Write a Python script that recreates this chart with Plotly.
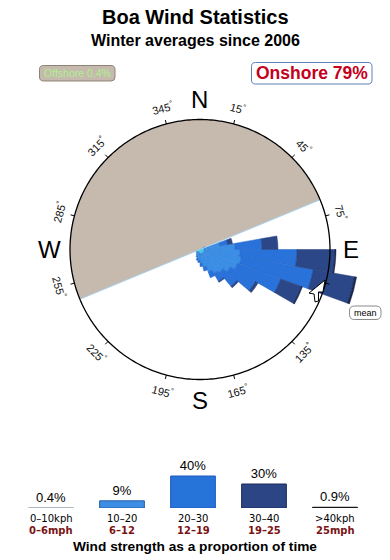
import numpy as np
import plotly.graph_objects as go

# ---------------- data ----------------
title = "Boa Wind Statistics"
subtitle = "Winter averages since 2006"
offshore_label = "Offshore 0.4%"
onshore_label = "Onshore 79%"

# offshore sector (compass bearings, clockwise from N)
offshore_from, offshore_to = 247.5, 67.5

# wind rose: % of time per 10-degree direction bin and speed class
directions = [65, 75, 85, 95, 105, 115, 125, 135, 145, 155, 165, 175, 185, 195, 205, 215, 225, 235, 245]
rose_0_10 = [0.01, 0.02, 0.02, 0.02, 0.02, 0.02, 0.02, 0.02, 0.02, 0.02, 0.02, 0.02, 0.02, 0.01, 0.01, 0.01, 0.01, 0.01, 0.01]
rose_10_20 = [0.01, 0.41, 1.28, 1.68, 1.86, 1.68, 1.28, 0.94, 0.81, 0.59, 0.32, 0.19, 0.11, 0.08, 0.04, 0.03, 0.02, 0.01, 0.01]
rose_20_30 = [0.01, 0.41, 2.79, 8.32, 12.21, 6.17, 3.06, 1.50, 0.62, 0.35, 0.17, 0.10, 0.05, 0.04, 0.02, 0, 0, 0, 0]
rose_30_40 = [0, 0.32, 2.39, 9.39, 12.17, 4.55, 0.42, 0.21, 0.08, 0, 0, 0, 0, 0, 0, 0, 0, 0, 0]
rose_40p = [0, 0, 0, 0.29, 0.67, 0.23, 0, 0, 0, 0, 0, 0, 0, 0, 0, 0, 0, 0, 0]
rose_classes = [rose_0_10, rose_10_20, rose_20_30, rose_30_40, rose_40p]
rose_colors = ["#52d2f2", "#3b8ee6", "#2872da", "#2b4787", "#1c2752"]
rose_edge = ["#48c4e6", "#3584d8", "#2467c8", "#263f78", "#151e40"]
circle_pct = 18.0          # value of the outer circle (area scaled rose)

tick_bearings = [15, 45, 75, 135, 165, 195, 225, 255, 285, 315, 345]
compass = [("N", 0), ("E", 90), ("S", 180), ("W", 270)]

# mean marker (white arrow) in bearing / radius (px of a 130 px circle)
mean_theta = [103.7, 109.1, 109.7, 113.5, 114.5, 111.3, 111.8, 103.7]
mean_rpx = [128.7, 130.1, 125.9, 129.2, 126.4, 122.4, 117.4, 128.7]

# speed distribution
speed_kph = ["0–10kph", "10–20", "20–30", "30–40", ">40kph"]
speed_mph = ["0–6mph", "6–12", "12–19", "19–25", "25mph"]
speed_share = [0.4, 9, 40, 30, 0.9]
speed_share_txt = ["0.4%", "9%", "40%", "30%", "0.9%"]
speed_colors = ["#a9b5bb", "#3b8ee4", "#2673da", "#2b4585", "#111111"]
speed_edges = ["#a9b5bb", "#285ca6", "#1d5cbc", "#1b2b5a", "#111111"]

# ---------------- geometry ----------------
W, H = 390, 560
CX, CY, RC, RDOM = 200, 249.5, 130, 170
unit = np.sqrt(circle_pct) / RC      # radial axis units per pixel
RCIRC = np.sqrt(circle_pct)
FONT = "Liberation Sans, Arial, Helvetica, sans-serif"
WIDE = "DejaVu Sans, Verdana, sans-serif"


def paper_pt(bearing, rpx):
    b = np.radians(bearing)
    return (CX + rpx * np.sin(b)) / W, 1 - (CY - rpx * np.cos(b)) / H


def rrect(x0, y0, x1, y1, rad):
    def P(x, y):
        return f"{x / W:.5f},{1 - y / H:.5f}"
    return (f"M{P(x0 + rad, y0)} L{P(x1 - rad, y0)} Q{P(x1, y0)} {P(x1, y0 + rad)} "
            f"L{P(x1, y1 - rad)} Q{P(x1, y1)} {P(x1 - rad, y1)} L{P(x0 + rad, y1)} "
            f"Q{P(x0, y1)} {P(x0, y1 - rad)} L{P(x0, y0 + rad)} Q{P(x0, y0)} {P(x0 + rad, y0)} Z")


fig = go.Figure()

# offshore half (tan)
span = (offshore_to - offshore_from) % 360
fig.add_trace(go.Barpolar(r=[RCIRC], theta=[offshore_from + span / 2], width=[span],
                          marker=dict(color="#c5baad", line=dict(width=0)),
                          hoverinfo="skip", showlegend=False))
fig.add_trace(go.Scatterpolar(r=[RCIRC, 0, RCIRC], theta=[offshore_to, offshore_to, offshore_from],
                              mode="lines", line=dict(color="#a8d2ee", width=1),
                              hoverinfo="skip", showlegend=False))

# tick marks
tr, tt = [], []
for b in tick_bearings + [105]:
    tr += [RCIRC, RCIRC + 4 * unit, None]
    tt += [b, b, None]
fig.add_trace(go.Scatterpolar(r=tr, theta=tt, mode="lines", line=dict(color="black", width=1),
                              hoverinfo="skip", showlegend=False))

# rose petals (area scaled: radius ~ sqrt of cumulative %)
cum = np.zeros(len(directions))
for vals, col, ecol in zip(rose_classes, rose_colors, rose_edge):
    lo = np.sqrt(cum)
    cum = cum + np.array(vals)
    hi = np.sqrt(cum)
    fig.add_trace(go.Barpolar(r=hi - lo, base=lo, theta=directions, width=[10] * len(directions),
                              marker=dict(color=col, line=dict(color=ecol, width=0.5)),
                              hoverinfo="skip", showlegend=False))

# outer circle
th = np.linspace(0, 360, 361)
fig.add_trace(go.Scatterpolar(r=[RCIRC] * len(th), theta=th, mode="lines",
                              line=dict(color="black", width=1.3), hoverinfo="skip", showlegend=False))

# mean marker
fig.add_trace(go.Scatterpolar(r=np.array(mean_rpx) * unit, theta=mean_theta, mode="lines",
                              fill="toself", fillcolor="white", line=dict(color="black", width=1),
                              hoverinfo="skip", showlegend=False))

# speed distribution bars
xs = list(range(len(speed_share)))
fig.add_trace(go.Bar(x=xs, y=speed_share, width=0.63, xaxis="x", yaxis="y",
                     marker=dict(color=speed_colors, line=dict(color=speed_edges, width=1)),
                     text=speed_share_txt, textposition="outside", cliponaxis=False,
                     textfont=dict(family=FONT, size=13, color="black"), constraintext="none",
                     hoverinfo="skip", showlegend=False))

ann = []
ann.append(dict(text=f"<b>{title}</b>", x=0.5, y=1 - 17 / H, font=dict(size=20)))
ann.append(dict(text=f"<b>{subtitle}</b>", x=0.5, y=1 - 41 / H, font=dict(size=16)))
ann.append(dict(text=offshore_label, x=77 / W, y=1 - 73 / H, font=dict(size=10.5, color="#aef08e")))
ann.append(dict(text=f"<b>{onshore_label}</b>", x=311.5 / W, y=1 - 73.5 / H,
                font=dict(size=17.5, color="#c4001c")))
ann.append(dict(text="mean", x=365 / W, y=1 - 312.7 / H, font=dict(size=9, color="black")))
for lab, b in compass:
    x, y = paper_pt(b, 150.5)
    ann.append(dict(text=lab, x=x, y=y, font=dict(size=24, color="black")))
for b in tick_bearings:
    x, y = paper_pt(b, 146)
    ang = (b if b <= 90 else b - 360) if (b < 90 or b > 270) else b - 180
    ann.append(dict(text=f"{b}<sup>°</sup>", x=x, y=y, textangle=ang, font=dict(size=11, color="#111")))
for i in xs:
    ann.append(dict(text=speed_kph[i], x=i, xref="x", y=1 - 518.5 / H,
                    font=dict(family=WIDE, size=10, color="black")))
    ann.append(dict(text=f"<b>{speed_mph[i]}</b>", x=i, xref="x", y=1 - 530.5 / H,
                    font=dict(family=WIDE, size=10, color="#7a1414")))
ann.append(dict(text="<b>Wind strength as a proportion of time</b>", x=0.5, y=1 - 546 / H,
                font=dict(size=13.7, color="black")))
for a in ann:
    a.setdefault("xref", "paper")
    a["yref"] = "paper"
    a["showarrow"] = False
    a["xanchor"] = "center"
    a["yanchor"] = "middle"
    f = a["font"]
    f.setdefault("family", FONT)
    f.setdefault("color", "black")

shapes = [
    dict(type="path", path=rrect(39.5, 65.5, 115, 81, 4), xref="paper", yref="paper",
         fillcolor="#c5baad", line=dict(color="#8c8275", width=1)),
    dict(type="path", path=rrect(251.5, 62.5, 372, 84, 4), xref="paper", yref="paper",
         fillcolor="white", line=dict(color="#5d7fb3", width=1)),
    dict(type="path", path=rrect(349.5, 306, 381, 319.5, 5), xref="paper", yref="paper",
         fillcolor="white", line=dict(color="#8a8a8a", width=1)),
]

fig.update_layout(
    width=W, height=H, margin=dict(l=0, r=0, t=0, b=0),
    paper_bgcolor="white", plot_bgcolor="rgba(0,0,0,0)",
    font=dict(family=FONT),
    showlegend=False,
    polar=dict(
        domain=dict(x=[(CX - RDOM) / W, (CX + RDOM) / W], y=[1 - (CY + RDOM) / H, 1 - (CY - RDOM) / H]),
        bgcolor="rgba(0,0,0,0)", barmode="overlay", hole=0,
        radialaxis=dict(range=[0, RDOM * unit], visible=False),
        angularaxis=dict(rotation=90, direction="clockwise", visible=False),
    ),
    xaxis=dict(domain=[15.5 / W, 370.5 / W], range=[-0.5, 4.5], visible=False, fixedrange=True),
    yaxis=dict(domain=[1 - 508 / H, 1 - 460 / H], range=[0, 60], visible=False, fixedrange=True),
    annotations=ann, shapes=shapes,
)

fig.write_html("out.html")
